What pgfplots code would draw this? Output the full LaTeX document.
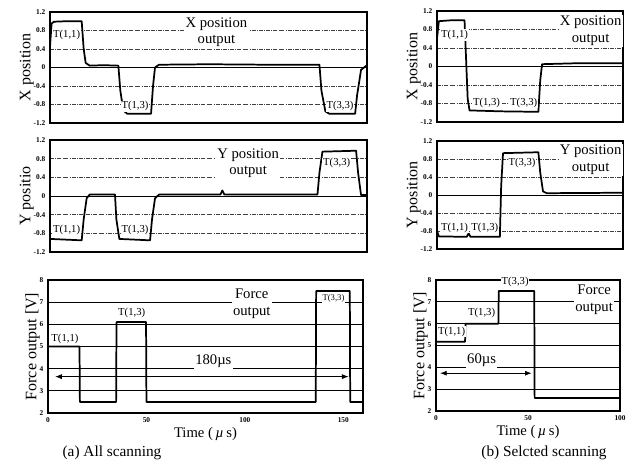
\documentclass[border=0pt]{standalone}
\usepackage{pgfplots}
\pgfplotsset{compat=1.18}
\usepackage{fontspec}
\setmainfont{Liberation Serif}
\usetikzlibrary{arrows.meta}

\tikzset{
  tl/.style={font=\fontsize{8}{9}\selectfont, fill=white, inner sep=0.6pt},
  note/.style={font=\fontsize{11}{12.5}\selectfont, align=center, fill=white, inner sep=1pt},
  trace/.style={black, line width=1.3pt, line join=round},
}
\pgfplotsset{
  scan/.style={
    scale only axis,
    axis line style={line width=0.9pt},
    major tick length=0pt,
    /pgf/number format/assume math mode=true,
    tick label style={font=\fontsize{5.5}{6}\selectfont\bfseries},
    ylabel style={font=\fontsize{12}{13}\selectfont},
    ylabel shift=-7pt,
    xlabel style={font=\fontsize{11}{12}\selectfont, yshift=3pt},
    clip=false,
  },
  posax/.style={scan,
    ymin=-1.2, ymax=1.2,
    ytick={-1.2,-0.8,-0.4,0,0.4,0.8,1.2},
    xtick=\empty,
    ymajorgrids,
    major grid style={densely dash dot, black!75, line width=0.5pt},
  },
  forceax/.style={scan,
    ymin=2, ymax=8,
    ytick={2,3,4,5,6,7,8},
    ymajorgrids,
    major grid style={solid, black, line width=0.6pt},
    ylabel={Force output [V]},
    xlabel={Time (\,\textit{µ}\,s)},
  },
}

\begin{document}
\begin{tikzpicture}
\path[use as bounding box] (0,0) rectangle (480pt,348pt);

% ---------- (a) all scanning ----------
\begin{axis}[posax, at={(37.5pt,255.75pt)}, width=237.75pt, height=83.25pt,
  xmin=0, xmax=160, ylabel={X position}]
\addplot[trace] coordinates {
 (0,0.45) (0.8,0.95) (2,0.99) (8,1.0) (16,1.0) (17,0.4) (18,0.1) (20,0.04)
 (27,0.05) (34.5,0.04) (35.5,-0.5) (37,-0.93) (39,-1.0) (51,-1.0)
 (52,-0.4) (53,0.0) (55,0.06) (80,0.07) (110,0.06) (136,0.06) (137,-0.5)
 (139,-0.95) (141,-1.0) (154,-1.0) (155,-0.6) (157,-0.05) (160,0.05)
};
\draw[line width=0.7pt] (axis cs:0,0) -- (axis cs:160,0);
\node[note] at (axis cs:84,0.76) {X position\\output};
\node[tl] at (axis cs:8.4,0.70) {T(1,1)};
\node[tl] at (axis cs:42.9,-0.84) {T(1,3)};
\node[tl] at (axis cs:146.4,-0.84) {T(3,3)};
\end{axis}

\begin{axis}[posax, at={(37.5pt,159pt)}, width=237.75pt, height=84pt,
  xmin=0, xmax=160, ylabel={Y positio}]
\addplot[trace] coordinates {
 (0,-0.92) (16,-0.95) (17,-0.5) (18.5,-0.05) (20,0.03) (32.8,0.03)
 (33.5,-0.5) (35,-0.92) (50.5,-0.95) (51.5,-0.5) (53,-0.05) (55,0.03)
 (86,0.03) (87,0.12) (88,0.03) (135,0.03) (136,0.5) (137.5,0.95)
 (154.5,0.97) (155.5,0.5) (157,0.02) (160,0.02)
};
\draw[line width=0.7pt] (axis cs:0,0) -- (axis cs:160,0);
\node[note] at (axis cs:100,0.70) {Y position\\output};
\node[tl] at (axis cs:144.7,0.70) {T(3,3)};
\node[tl] at (axis cs:8.4,-0.73) {T(1,1)};
\node[tl] at (axis cs:42.9,-0.73) {T(1,3)};
\end{axis}

\begin{axis}[forceax, at={(36pt,38.25pt)}, width=236.25pt, height=99.75pt,
  xmin=0, xmax=160, xtick={0,50,100,150}]
\addplot[trace] coordinates {
 (0,2) (0,5.0) (16,5.0) (16.2,2.5) (34.6,2.5) (34.8,6.1) (49.8,6.1)
 (50,2.5) (136,2.5) (136.2,7.5) (153.3,7.5) (153.5,2.5) (160,2.5)
};
\node[note] at (axis cs:103.5,6.92) {Force\\output};
\node[tl] at (axis cs:8.6,5.33) {T(1,1)};
\node[tl] at (axis cs:42.5,6.5) {T(1,3)};
\node[tl, font=\fontsize{6.5}{7}\selectfont] at (axis cs:145,7.17) {T(3,3)};
\node[note] at (axis cs:84,4.32) {180µs};
\draw[{Latex[length=5pt]}-{Latex[length=5pt]}, line width=0.6pt]
  (axis cs:3.6,3.64) -- (axis cs:152.7,3.64);
\end{axis}
\node[font=\fontsize{11.5}{12}\selectfont] at (84pt,8pt) {(a) All scanning};

% ---------- (b) selected scanning ----------
\begin{axis}[posax, at={(327.75pt,256.5pt)}, width=139.5pt, height=83.25pt,
  xmin=0, xmax=100, ylabel={X position}]
\addplot[trace] coordinates {
 (0,0.6) (1,0.98) (8,1.0) (14.8,1.0) (15.5,0.3) (16.5,-0.7) (17.5,-0.95)
 (35,-0.97) (54.5,-0.98) (55.5,-0.3) (56.5,0.05) (75,0.07) (100,0.07)
};
\draw[line width=0.7pt] (axis cs:0,0) -- (axis cs:100,0);
\node[note, anchor=east] at (axis cs:100,0.77) {X position\\output};
\node[tl] at (axis cs:9.4,0.68) {T(1,1)};
\node[tl] at (axis cs:26.6,-0.78) {T(1,3)};
\node[tl] at (axis cs:46.6,-0.78) {T(3,3)};
\end{axis}

\begin{axis}[posax, at={(327.75pt,161.25pt)}, width=139.5pt, height=81pt,
  xmin=0, xmax=100, ylabel={Y position}]
\addplot[trace] coordinates {
 (0,-0.8) (1,-0.92) (16,-0.93) (17,-0.85) (18,-0.93) (33.8,-0.93)
 (34.5,0.2) (35.5,0.93) (54.5,0.95) (55.5,0.5) (57,0.08) (59,0.04) (100,0.05)
};
\draw[line width=0.7pt] (axis cs:0,0) -- (axis cs:100,0);
\node[note, anchor=east] at (axis cs:100,0.78) {Y position\\output};
\node[tl] at (axis cs:45.7,0.71) {T(3,3)};
\node[tl] at (axis cs:9.4,-0.73) {T(1,1)};
\node[tl] at (axis cs:25.7,-0.73) {T(1,3)};
\end{axis}

\begin{axis}[forceax, at={(327pt,39.75pt)}, width=138pt, height=98.25pt,
  xmin=0, xmax=100, xtick={0,50,100}]
\addplot[trace] coordinates {
 (0,2) (0,5.17) (15.8,5.17) (16,6.0) (33.9,6.0) (34.1,7.5) (53.4,7.5)
 (53.6,2.6) (100,2.6)
};
\node[note, anchor=east] at (axis cs:97,7.08) {Force\\output};
\node[tl] at (axis cs:43,7.9) {T(3,3)};
\node[tl] at (axis cs:24.8,6.49) {T(1,3)};
\node[tl] at (axis cs:8.5,5.63) {T(1,1)};
\node[note] at (axis cs:24.8,4.34) {60µs};
\draw[{Latex[length=5pt]}-{Latex[length=5pt]}, line width=0.6pt]
  (axis cs:2.2,3.73) -- (axis cs:52,3.73);
\end{axis}
\node[font=\fontsize{11.5}{12}\selectfont] at (408pt,8pt) {(b) Selcted scanning};
\end{tikzpicture}
\end{document}
